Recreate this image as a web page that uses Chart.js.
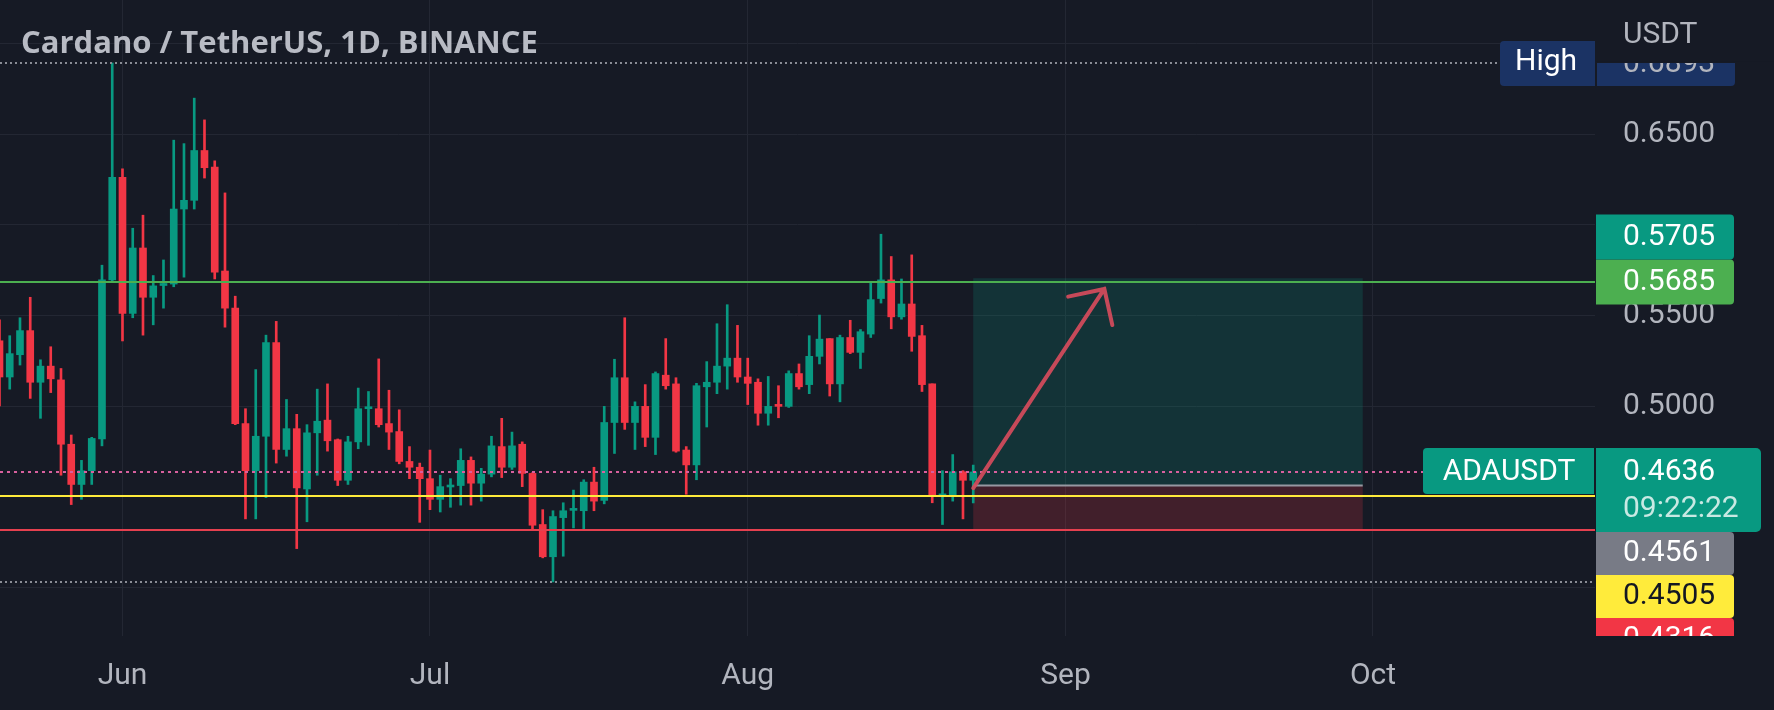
<!DOCTYPE html>
<html>
<head>
<meta charset="utf-8">
<script src="https://cdn.jsdelivr.net/npm/chart.js@4.4.1/dist/chart.umd.min.js"></script>
<style>
html, body { margin: 0; padding: 0; background: #161a25; overflow: hidden; }
#wrap { width: 1774px; height: 710px; }
</style>
</head>
<body>
<div id="wrap"><canvas id="grafico" width="1774" height="710"></canvas></div>
<script>
// velas diarias ADA/USDT
var fechas = [
    '2022-05-20','2022-05-21','2022-05-22','2022-05-23','2022-05-24','2022-05-25','2022-05-26','2022-05-27','2022-05-28','2022-05-29','2022-05-30','2022-05-31',
    '2022-06-01','2022-06-02','2022-06-03','2022-06-04','2022-06-05','2022-06-06','2022-06-07','2022-06-08','2022-06-09','2022-06-10',
    '2022-06-11','2022-06-12','2022-06-13','2022-06-14','2022-06-15','2022-06-16','2022-06-17','2022-06-18','2022-06-19','2022-06-20',
    '2022-06-21','2022-06-22','2022-06-23','2022-06-24','2022-06-25','2022-06-26','2022-06-27','2022-06-28','2022-06-29','2022-06-30',
    '2022-07-01','2022-07-02','2022-07-03','2022-07-04','2022-07-05','2022-07-06','2022-07-07','2022-07-08','2022-07-09','2022-07-10',
    '2022-07-11','2022-07-12','2022-07-13','2022-07-14','2022-07-15','2022-07-16','2022-07-17','2022-07-18','2022-07-19','2022-07-20',
    '2022-07-21','2022-07-22','2022-07-23','2022-07-24','2022-07-25','2022-07-26','2022-07-27','2022-07-28','2022-07-29','2022-07-30','2022-07-31',
    '2022-08-01','2022-08-02','2022-08-03','2022-08-04','2022-08-05','2022-08-06','2022-08-07','2022-08-08','2022-08-09','2022-08-10',
    '2022-08-11','2022-08-12','2022-08-13','2022-08-14','2022-08-15','2022-08-16','2022-08-17','2022-08-18','2022-08-19','2022-08-20',
    '2022-08-21','2022-08-22','2022-08-23'
];
var aperturas = [
    0.5360,0.5160,0.5283,0.5416,0.5131,0.5220,0.5144,0.4789,0.4567,0.4643,0.4818,0.5696,
    0.6262,0.5511,0.5872,0.5600,0.5665,0.5673,0.6087,0.6135,0.6410,0.6319,
    0.5745,0.5540,0.4903,0.4643,0.4833,0.5350,0.4760,0.4875,0.4542,0.4852,
    0.4922,0.4814,0.4590,0.4802,0.4985,0.4985,0.4903,0.4859,0.4694,0.4662,
    0.4599,0.4485,0.4553,0.4561,0.4700,0.4574,0.4624,0.4776,0.4662,0.4789,
    0.4628,0.4346,0.4168,0.4384,0.4424,0.4422,0.4580,0.4479,0.4909,0.5156,
    0.4909,0.4998,0.4827,0.5170,0.5122,0.4757,0.4675,0.5106,0.5131,0.5220,0.5264,
    0.5160,0.5131,0.4960,0.5008,0.4998,0.5179,0.5118,0.5274,0.5372,0.5122,
    0.5378,0.5296,0.5397,0.5593,0.5696,0.5492,0.5563,0.5388,0.5122,0.4504,
    0.4504,0.4637,0.4590
];
var maximos = [
    0.5475,0.5388,0.5487,0.5600,0.5255,0.5327,0.5207,0.4840,0.4700,0.4827,0.5777,0.6893,
    0.6309,0.5981,0.6053,0.5720,0.5806,0.6467,0.6448,0.6699,0.6579,0.6353,
    0.6176,0.5606,0.4985,0.5201,0.5391,0.5467,0.5036,0.4954,0.4897,0.5093,
    0.5122,0.4818,0.4833,0.5099,0.5080,0.5260,0.5087,0.4979,0.4776,0.4685,
    0.4757,0.4618,0.4599,0.4764,0.4719,0.4656,0.4833,0.4932,0.4856,0.4802,
    0.4632,0.4428,0.4422,0.4466,0.4536,0.4593,0.4662,0.4998,0.5258,0.5487,
    0.5023,0.5118,0.5188,0.5372,0.5156,0.4776,0.5125,0.5245,0.5454,0.5559,0.5445,
    0.5264,0.5150,0.5163,0.5112,0.5194,0.5232,0.5388,0.5502,0.5372,0.5391,
    0.5473,0.5422,0.5682,0.5948,0.5825,0.5701,0.5834,0.5445,0.5122,0.4643,
    0.4732,0.4643,0.4674
];
var minimos = [
    0.5000,0.5093,0.5226,0.5042,0.4932,0.5074,0.4618,0.4456,0.4485,0.4567,0.4780,0.5682,
    0.5359,0.5487,0.5391,0.5448,0.5540,0.5658,0.5711,0.6087,0.6258,0.5701,
    0.5435,0.4897,0.4377,0.4377,0.4494,0.4685,0.4723,0.4213,0.4361,0.4618,
    0.4751,0.4561,0.4567,0.4764,0.4783,0.4884,0.4760,0.4681,0.4599,0.4358,
    0.4428,0.4415,0.4441,0.4453,0.4453,0.4475,0.4609,0.4605,0.4650,0.4555,
    0.4320,0.4162,0.4029,0.4171,0.4327,0.4323,0.4422,0.4460,0.4738,0.4871,
    0.4760,0.4776,0.4732,0.5093,0.4745,0.4513,0.4593,0.4884,0.5068,0.5093,0.5131,
    0.5008,0.4894,0.4894,0.4935,0.4992,0.5093,0.5068,0.5232,0.5055,0.5023,
    0.5289,0.5207,0.5378,0.5568,0.5426,0.5479,0.5302,0.5080,0.4466,0.4346,
    0.4475,0.4377,0.4465
];
var cierres = [
    0.5160,0.5289,0.5416,0.5131,0.5220,0.5150,0.4789,0.4567,0.4643,0.4821,0.5696,0.6262,
    0.5511,0.5872,0.5600,0.5663,0.5672,0.6087,0.6135,0.6410,0.6315,0.5739,
    0.5540,0.4903,0.4643,0.4833,0.5350,0.4760,0.4875,0.4548,0.4852,0.4916,
    0.4808,0.4590,0.4802,0.4985,0.4990,0.4897,0.4856,0.4694,0.4662,0.4599,
    0.4485,0.4555,0.4557,0.4700,0.4574,0.4624,0.4780,0.4662,0.4780,0.4628,
    0.4342,0.4168,0.4390,0.4422,0.4430,0.4580,0.4475,0.4909,0.5156,0.4909,
    0.4998,0.4827,0.5179,0.5112,0.4751,0.4675,0.5112,0.5131,0.5220,0.5264,0.5160,
    0.5125,0.4960,0.4998,0.4998,0.5179,0.5106,0.5274,0.5369,0.5122,0.5378,
    0.5296,0.5410,0.5587,0.5696,0.5492,0.5563,0.5384,0.5118,0.4504,0.4512,
    0.4637,0.4590,0.4636
];

// ejes
var mesesTicks = ['2022-06-01', '2022-07-01', '2022-08-01', '2022-09-01', '2022-10-01'];
var mesesEtiquetas = ['Jun', 'Jul', 'Aug', 'Sep', 'Oct'];
var preciosTicks = [0.40, 0.45, 0.50, 0.55, 0.60, 0.65, 0.70];
var preciosVisibles = [0.50, 0.55, 0.65]; // las demas quedan tapadas por etiquetas

// dibujos del usuario
var nivelesValores = [0.5685, 0.4505, 0.4316];
var maximoVisible = 0.6893;
var minimoVisible = 0.4029;
var precioActual = 0.4636;
var cuentaAtras = '09:22:22';
var posicionFechas = ['2022-08-23', '2022-09-30'];
var posicionPrecios = [0.5705, 0.4561, 0.4316]; // objetivo, entrada, stop
var flechaFechas = ['2022-08-23T00:00:00Z', '2022-09-04T19:00:00Z'];
var flechaPrecios = [0.4547, 0.5646];

var titulo = 'Cardano / TetherUS, 1D, BINANCE';

function dia(f) {
    return (Date.parse(f) - Date.parse('2022-06-01T00:00:00Z')) / 86400000;
}

var verde = '#089981', rojo = '#f23645', fondo = '#161a25', gris = '#b2b5be';
var colores = cierres.map(function (c, i) { return c >= aperturas[i] ? verde : rojo; });

function caja(ctx, x, y, w, h, color, r) {
    ctx.fillStyle = color;
    ctx.beginPath();
    ctx.roundRect(x, y, w, h, r);
    ctx.fill();
}

function lineaH(ctx, a, y, color, ancho, guion) {
    ctx.save();
    ctx.strokeStyle = color;
    ctx.lineWidth = ancho;
    ctx.setLineDash(guion || []);
    ctx.beginPath();
    ctx.moveTo(a.left, y);
    ctx.lineTo(a.right, y);
    ctx.stroke();
    ctx.restore();
}

var dibujos = {
    id: 'dibujos',
    beforeDatasetsDraw: function (chart) {
        var ctx = chart.ctx, a = chart.chartArea, x = chart.scales.x, y = chart.scales.y;
        var x0 = x.getPixelForValue(dia(posicionFechas[0])), x1 = x.getPixelForValue(dia(posicionFechas[1]));
        var yT = y.getPixelForValue(posicionPrecios[0]), yE = y.getPixelForValue(posicionPrecios[1]), yS = y.getPixelForValue(posicionPrecios[2]);
        ctx.save();
        ctx.fillStyle = 'rgba(8,153,129,0.2)';
        ctx.fillRect(x0, yT, x1 - x0, yE - yT);
        ctx.fillStyle = 'rgba(242,54,69,0.2)';
        ctx.fillRect(x0, yE, x1 - x0, yS - yE);
        ctx.strokeStyle = '#9598a1';
        ctx.lineWidth = 2;
        ctx.beginPath();
        ctx.moveTo(x0, yE);
        ctx.lineTo(x1, yE);
        ctx.stroke();
        ctx.restore();
    },
    afterDatasetsDraw: function (chart) {
        var ctx = chart.ctx, a = chart.chartArea, x = chart.scales.x, y = chart.scales.y;
        ctx.save();
        ctx.beginPath();
        ctx.rect(a.left, a.top, a.right - a.left, a.bottom - a.top);
        ctx.clip();

        lineaH(ctx, a, y.getPixelForValue(maximoVisible), '#8a8d96', 2, [2, 3]);
        lineaH(ctx, a, y.getPixelForValue(minimoVisible), '#8a8d96', 2, [2, 3]);
        lineaH(ctx, a, y.getPixelForValue(precioActual), '#d8609e', 2, [3, 4]);

        var coloresNiveles = ['#4caf50', '#ffeb3b', '#e5404f'];
        nivelesValores.forEach(function (v, i) {
            lineaH(ctx, a, Math.round(y.getPixelForValue(v)), coloresNiveles[i], 2);
        });

        // flecha
        var fx0 = x.getPixelForValue(dia(flechaFechas[0])), fy0 = y.getPixelForValue(flechaPrecios[0]);
        var fx1 = x.getPixelForValue(dia(flechaFechas[1])), fy1 = y.getPixelForValue(flechaPrecios[1]);
        var ang = Math.atan2(fy0 - fy1, fx0 - fx1);
        ctx.strokeStyle = 'rgba(214,76,92,0.92)';
        ctx.lineWidth = 4;
        ctx.lineCap = 'round';
        ctx.beginPath();
        ctx.moveTo(fx0, fy0);
        ctx.lineTo(fx1, fy1);
        ctx.moveTo(fx1 + 37 * Math.cos(ang + 0.78), fy1 + 37 * Math.sin(ang + 0.78));
        ctx.lineTo(fx1, fy1);
        ctx.lineTo(fx1 + 37 * Math.cos(ang - 0.8), fy1 + 37 * Math.sin(ang - 0.8));
        ctx.stroke();
        ctx.restore();
    },
    afterDraw: function (chart) {
        var ctx = chart.ctx, a = chart.chartArea, y = chart.scales.y;
        var xe = a.right + 1, ancho = 138, alto = 45;
        ctx.save();

        // titulo
        ctx.font = 'bold 31px "Open Sans"';
        ctx.fillStyle = '#b8bbc4';
        ctx.textBaseline = 'alphabetic';
        ctx.fillText(titulo, 21, 53);

        // etiquetas del eje de precios
        ctx.font = '30px Roboto';
        ctx.textBaseline = 'middle';

        var yH = y.getPixelForValue(maximoVisible);
        caja(ctx, a.right - 95, yH - 22, 95, alto, '#1b3364', [4, 0, 0, 4]);
        ctx.fillStyle = '#ffffff';
        ctx.fillText('High', a.right - 80, yH);

        // nombre del simbolo junto al precio actual
        var yA = y.getPixelForValue(precioActual);
        var topA = yA - 24, bajoA = yA + 60;
        caja(ctx, a.right - 172, topA, 171, 46, verde, [4, 0, 0, 4]);
        ctx.fillStyle = '#ffffff';
        ctx.textAlign = 'center';
        ctx.fillText('ADAUSDT', a.right - 86, yA + 1);
        ctx.textAlign = 'left';

        ctx.save();
        ctx.beginPath();
        ctx.rect(xe, yH, 1774 - xe, a.bottom - yH);
        ctx.clip();

        caja(ctx, xe + 1, yH - 22, ancho, alto, '#1b3364', [0, 4, 4, 0]);
        ctx.fillStyle = '#b2b5be';
        ctx.fillText(maximoVisible.toFixed(4), xe + 27, yH + 2);

        // etiqueta del precio actual
        caja(ctx, xe, topA, 165, bajoA - topA, verde, [0, 5, 5, 0]);
        ctx.fillStyle = '#ffffff';
        ctx.fillText(precioActual.toFixed(4), xe + 27, yA + 1);
        ctx.fillStyle = 'rgba(255,255,255,0.78)';
        ctx.fillText(cuentaAtras, xe + 27, yA + 38);

        // por encima: se empujan hacia arriba
        var arriba = [[nivelesValores[0], '#4caf50', '#ffffff'], [posicionPrecios[0], verde, '#ffffff']];
        var limite = topA;
        arriba.forEach(function (e) {
            var c = y.getPixelForValue(e[0]);
            var t = Math.min(c - alto / 2, limite - alto);
            caja(ctx, xe, t, ancho, alto, e[1], [0, 4, 4, 0]);
            ctx.fillStyle = e[2];
            ctx.fillText(e[0].toFixed(4), xe + 27, t + alto / 2 + 1);
            limite = t;
        });

        // por debajo: se empujan hacia abajo
        var abajo = [[posicionPrecios[1], '#787b86', '#ffffff'], [nivelesValores[1], '#ffeb3b', '#131722'], [nivelesValores[2], rojo, '#ffffff']];
        limite = bajoA;
        abajo.forEach(function (e) {
            var c = y.getPixelForValue(e[0]);
            var t = Math.max(c - alto / 2, limite);
            caja(ctx, xe, t, ancho, 43, e[1], [0, 4, 4, 0]);
            ctx.fillStyle = e[2];
            ctx.fillText(e[0].toFixed(4), xe + 27, t + 22);
            limite = t + 43;
        });
        ctx.restore();

        // cabecera del eje
        ctx.fillStyle = fondo;
        ctx.fillRect(xe, 0, 1774 - xe, yH - 1);
        ctx.fillStyle = gris;
        ctx.fillText('USDT', xe + 27, 35);
        ctx.restore();
    }
};

var ctxGrafico = document.getElementById('grafico');

var graficoVelas = new Chart(ctxGrafico, {
    type: 'bar',
    data: {
        datasets: [
            {
                label: 'Cuerpo',
                data: fechas.map(function (f, i) { return { x: dia(f), y: [aperturas[i], cierres[i]] }; }),
                backgroundColor: colores,
                barThickness: 7,
                minBarLength: 2,
                grouped: false,
                order: 1
            },
            {
                label: 'Mecha',
                data: fechas.map(function (f, i) { return { x: dia(f), y: [minimos[i], maximos[i]] }; }),
                backgroundColor: colores,
                barThickness: 2,
                grouped: false,
                order: 2
            }
        ]
    },
    options: {
        responsive: false,
        animation: false,
        devicePixelRatio: 1,
        layout: { padding: 0 },
        plugins: {
            legend: { display: false },
            tooltip: { enabled: false },
            title: { display: false }
        },
        scales: {
            x: {
                type: 'linear',
                min: -11.95,
                max: 143.66,
                offset: false,
                grid: { color: '#232733', drawTicks: false, offset: false },
                border: { display: false },
                afterBuildTicks: function (s) {
                    s.ticks = mesesTicks.map(function (f) { return { value: dia(f) }; });
                },
                ticks: {
                    color: gris,
                    font: { family: 'Roboto', size: 30 },
                    padding: 22,
                    maxRotation: 0,
                    autoSkip: false,
                    callback: function (v, i) { return mesesEtiquetas[i]; }
                },
                afterFit: function (s) {
                    s.height = 74;
                    s.paddingLeft = 0;
                    s.paddingRight = 0;
                }
            },
            y: {
                position: 'right',
                min: 0.37307,
                max: 0.72406,
                grid: { color: '#232733', drawTicks: false },
                border: { display: false },
                afterBuildTicks: function (s) {
                    s.ticks = preciosTicks.map(function (v) { return { value: v }; });
                },
                ticks: {
                    color: gris,
                    font: { family: 'Roboto', size: 30 },
                    padding: 28,
                    callback: function (v) {
                        return preciosVisibles.some(function (p) { return Math.abs(p - v) < 1e-6; }) ? v.toFixed(4) : '';
                    }
                },
                afterFit: function (s) {
                    s.width = 179;
                    s.paddingTop = 0;
                    s.paddingBottom = 0;
                }
            }
        }
    },
    plugins: [dibujos]
});
</script>
</body>
</html>
